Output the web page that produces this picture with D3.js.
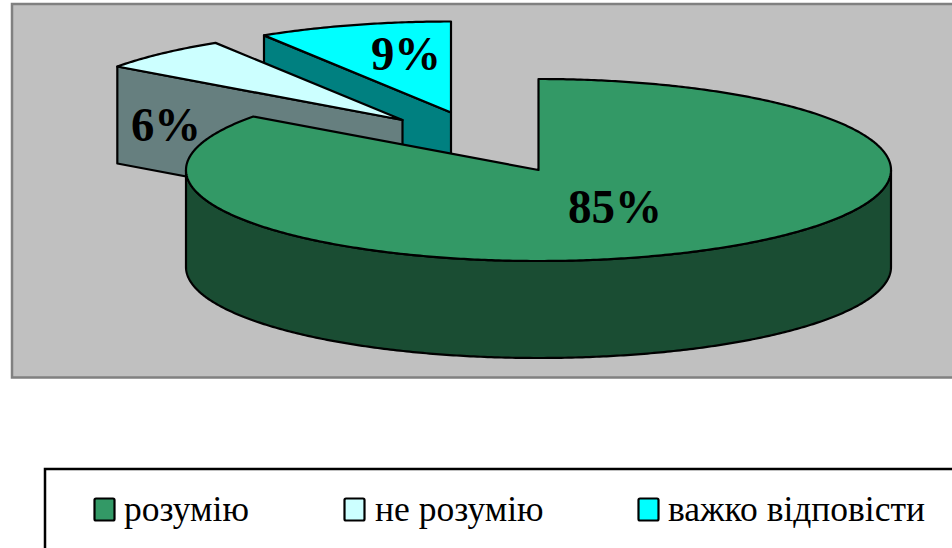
<!DOCTYPE html>
<html><head><meta charset="utf-8">
<script src="https://cdn.jsdelivr.net/npm/d3@7"></script>
<style>html,body{margin:0;padding:0;background:#fff;overflow:hidden}svg{display:block}</style>
</head><body><svg id="c" width="952" height="548"></svg>
<script>
const categories = ["розумію", "не розумію", "важко відповісти"];
const values = [85, 6.1, 8.9];
const labels = ["85%", "6%", "9%"];
const topColors = ["#339966", "#CCFFFF", "#00FFFF"];
const wallColors = ["#1A4D33", "#667F7F", "#008080"];
const sliceCentres = [[538.5,170],[402.5,120],[451,112.5]];
const labelPos = [[615,223],[166,141],[406,70]];
const legendSwatchX = [94.5,344.5,638.5];
const legendTextX = [124,375,668];

const rx = 352.5, ry = 91, depth = 97;
const svg = d3.select("#c");
const line = d3.line();
const pie = d3.pie().sort(null).value(d => d)(values);

svg.append("rect").attr("x",12).attr("y",4).attr("width",960).attr("height",373.5)
  .attr("fill","#C0C0C0").attr("stroke","#808080").attr("stroke-width",2.5);

const pt = (c,a,dy=0) => [c[0]+rx*Math.sin(a), c[1]-ry*Math.cos(a)+dy];
const rim = (c,a0,a1,dy=0) => {
  const n = Math.max(2, Math.ceil(Math.abs(a1-a0)/0.01));
  return d3.range(n+1).map(i => pt(c, a0+(a1-a0)*i/n, dy));
};
const g = svg.append("g").attr("stroke","#000").attr("stroke-width",2.2).attr("stroke-linejoin","round");
const draw = (pts,fill) => g.append("path").attr("d",line(pts)+"Z").attr("fill",fill);

// far slices first, then the main slice on top
[2,1,0].forEach(i => {
  const s = pie[i], c = sliceCentres[i];
  if (i === 0) {
    const a0 = Math.PI/2, a1 = 3*Math.PI/2;
    draw(rim(c,a0,a1).concat(rim(c,a1,a0,depth)), wallColors[i]);
  } else {
    const e = pt(c,s.startAngle);
    draw([e,c,[c[0],c[1]+depth],[e[0],e[1]+depth]], wallColors[i]);
  }
  draw([c].concat(rim(c,s.startAngle,s.endAngle)), topColors[i]);
});

svg.selectAll("text.l").data(labels).join("text").attr("class","l")
  .attr("x",(d,i)=>labelPos[i][0]).attr("y",(d,i)=>labelPos[i][1])
  .attr("text-anchor","middle").attr("font-family","Liberation Serif")
  .attr("font-weight","bold").attr("font-size",48).attr("textLength",(d,i)=>d.length===3?94:70)
  .attr("lengthAdjust","spacingAndGlyphs").text(d=>d);

svg.append("rect").attr("x",45).attr("y",469).attr("width",940).attr("height",120)
  .attr("fill","#fff").attr("stroke","#000").attr("stroke-width",2.5);
svg.selectAll("rect.s").data(categories).join("rect").attr("class","s")
  .attr("x",(d,i)=>legendSwatchX[i]).attr("y",498.5).attr("width",20).attr("height",22).attr("rx",1.5)
  .attr("fill",(d,i)=>topColors[i]).attr("stroke","#000").attr("stroke-width",2.2);
svg.selectAll("text.t").data(categories).join("text").attr("class","t")
  .attr("x",(d,i)=>legendTextX[i]).attr("y",521)
  .attr("font-family","Liberation Serif").attr("font-size",35.5).attr("fill","#000").text(d=>d);
</script></body></html>
